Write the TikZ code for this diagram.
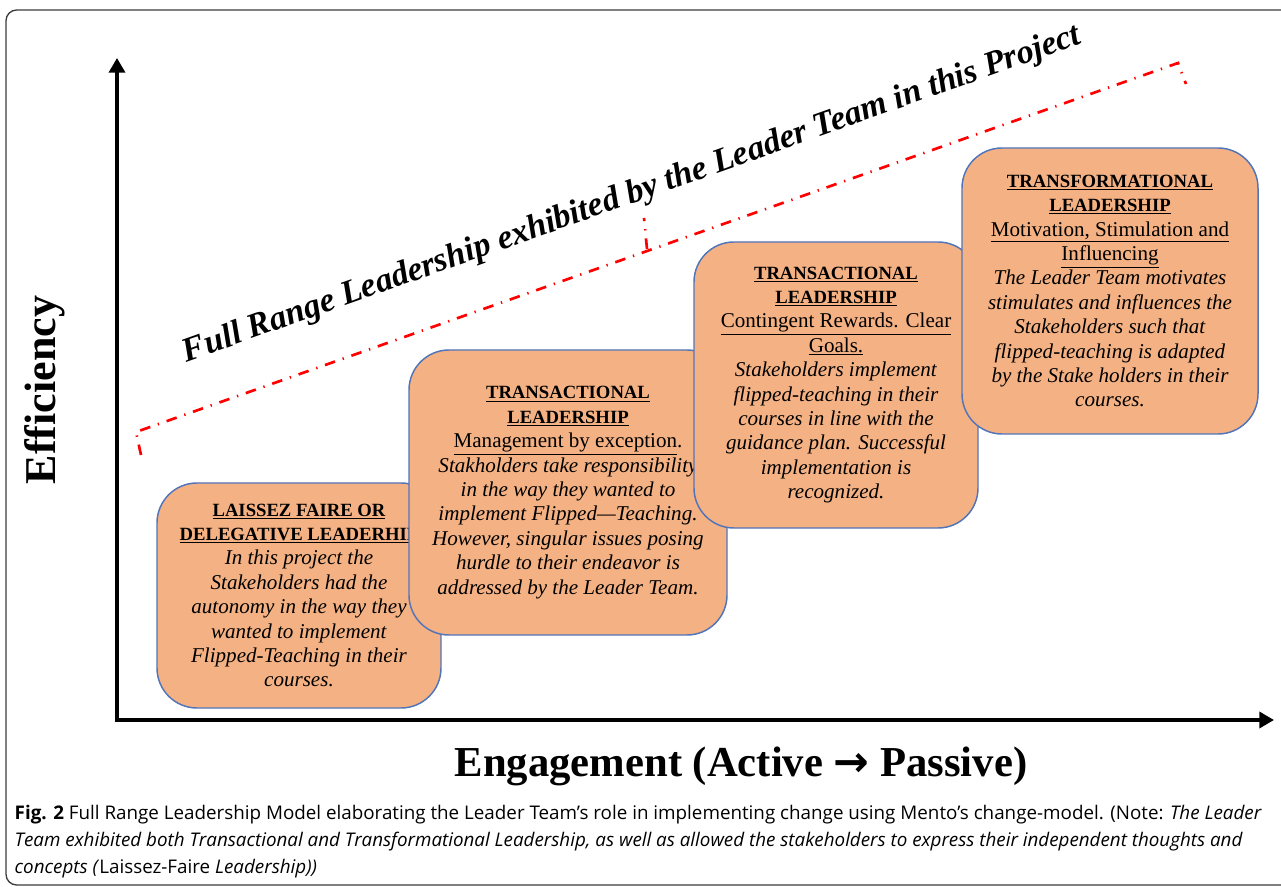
\documentclass[tikz,border=0pt]{standalone}
\usepackage{fontspec}
\setmainfont{Liberation Serif}
\newfontfamily\capfont{Open Sans}
\newfontfamily\arrowfont{DejaVu Sans}
\usetikzlibrary{arrows.meta}
\newcommand{\boxhead}[1]{\underline{\fontsize{14}{18.3}\selectfont\bfseries #1}}

\begin{document}
\begin{tikzpicture}[x=0.75pt,y=0.75pt,yscale=-1,xscale=1,
    leaderbox/.style={draw={rgb, 255:red, 82; green, 117; blue, 186 },line width=1.1pt,fill={rgb, 255:red, 244; green, 177; blue, 131 },rounded corners=30pt,inner sep=0pt,outer sep=0pt,align=center,font=\fontsize{15.8}{18.3}\selectfont},
    axisline/.style={line width=2.6pt,-{Triangle[length=11pt,width=12pt]}},
    rangeline/.style={color={rgb, 255:red, 255; green, 0; blue, 0 },line width=2pt,dash pattern=on 8pt off 6pt on 1pt off 6pt}]
    \useasboundingbox (0,0) rectangle (1281,887);

    %Shape: Frame
    \draw [color={rgb, 255:red, 60; green, 60; blue, 60 },line width=1pt,rounded corners=8pt] (6,10) rectangle (1360,885) ;
    %Straight Lines: Axes
    \draw [axisline] (117,722) -- (117,58) ;
    \draw [axisline] (115,720) -- (1274,720) ;

    %Shape: Range bracket
    \coordinate (rangeLeftEnd) at (141,455);
    \coordinate (rangeLeft) at (136,432);
    \coordinate (rangeMid) at (647,249);
    \coordinate (rangeTip) at (644,218);
    \coordinate (rangeRight) at (1178,63);
    \coordinate (rangeRightEnd) at (1186,84);
    \draw [rangeline] (rangeLeftEnd) -- (rangeLeft) -- (rangeRight) -- (rangeRightEnd) ;
    \draw [rangeline] (rangeMid) -- (rangeTip) ;

    % Text Node
    \draw (632,195) node (rangeTitle) [rotate=19.6,font=\fontsize{25.5}{28}\selectfont\bfseries\itshape] {Full Range Leadership exhibited by the Leader Team in this Project};

    % Shape: Boxes
    \draw (299,595.5) node (laissez) [leaderbox,minimum width=213pt,minimum height=168.75pt] {\boxhead{LAISSEZ FAIRE OR}\\ \boxhead{DELEGATIVE LEADERHIP}\\ \textit{In this project the}\\ \textit{Stakeholders had the}\\ \textit{autonomy in the way they}\\ \textit{wanted to implement}\\ \textit{Flipped-Teaching in their}\\ \textit{courses.}};
    \draw (568,492.5) node (exception) [leaderbox,minimum width=238.5pt,minimum height=213.75pt] {\boxhead{TRANSACTIONAL}\\ \boxhead{LEADERSHIP}\\ \underline{Management by exception}.\\ \textit{Stakholders take responsibility}\\ \textit{in the way they wanted to}\\ \textit{implement Flipped---Teaching.}\\ \textit{However, singular issues posing}\\ \textit{hurdle to their endeavor is}\\ \textit{addressed by the Leader Team.}};
    \draw (836,385) node (rewards) [leaderbox,minimum width=213pt,minimum height=214.5pt] {\boxhead{TRANSACTIONAL}\\ \boxhead{LEADERSHIP}\\ \underline{Contingent Rewards. Clear}\\ \underline{Goals.}\\ \textit{Stakeholders implement}\\ \textit{flipped-teaching in their}\\ \textit{courses in line with the}\\ \textit{guidance plan. Successful}\\ \textit{implementation is}\\ \textit{recognized.}};
    \draw (1110,291) node (transform) [leaderbox,minimum width=222pt,minimum height=214.5pt] {\boxhead{TRANSFORMATIONAL}\\ \boxhead{LEADERSHIP}\\ \underline{Motivation, Stimulation and}\\ \underline{Influencing}\\ \textit{The Leader Team motivates}\\ \textit{stimulates and influences the}\\ \textit{Stakeholders such that}\\ \textit{flipped-teaching is adapted}\\ \textit{by the Stake holders in their}\\ \textit{courses.}};

    % Text Node
    \draw (45,390) node (efficiency) [rotate=90,font=\fontsize{33}{36}\selectfont\bfseries] {Efficiency};
    % Text Node
    \draw (741,766) node (engagement) [font=\fontsize{32}{36}\selectfont\bfseries] {Engagement (Active {\arrowfont →} Passive)};
    % Text Node
    \draw (10,801) node (caption) [anchor=north west,align=left,font=\capfont\fontsize{14.1}{20.25}\selectfont] {\textbf{Fig. 2} Full Range Leadership Model elaborating the Leader Team’s role in implementing change using Mento’s change-model. (Note: \textit{The Leader}\\ \textit{Team exhibited both Transactional and Transformational Leadership, as well as allowed the stakeholders to express their independent thoughts and}\\ \textit{concepts (}Laissez-Faire \textit{Leadership))}};
\end{tikzpicture}
\end{document}
